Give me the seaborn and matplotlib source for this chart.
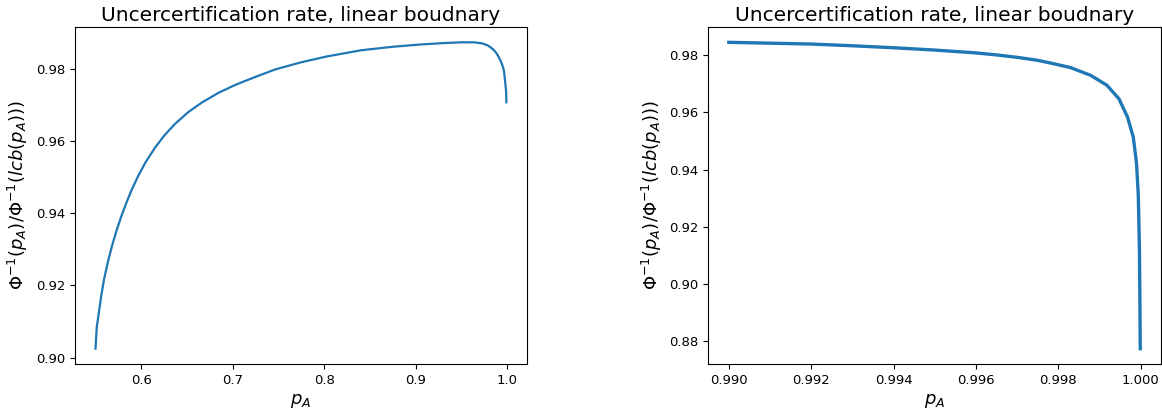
import numpy as np
import matplotlib
matplotlib.use("Agg")
import matplotlib.pyplot as plt
import seaborn as sns

# values
p_left = [0.5500, 0.5514, 0.5565, 0.5594, 0.5638, 0.5681, 0.5730, 0.5784,
          0.5839, 0.5894, 0.5966, 0.6047, 0.6149, 0.6251, 0.6368, 0.6514,
          0.6660, 0.6842, 0.7025, 0.7244, 0.7463, 0.7750, 0.8029, 0.8400,
          0.8758, 0.9050, 0.9306, 0.9488, 0.9634, 0.9726, 0.9781, 0.9817,
          0.9853, 0.9883, 0.9908, 0.9934, 0.9952, 0.9963, 0.9974, 0.9985,
          0.9989]
ratio_left = [0.9025, 0.9085, 0.9175, 0.9218, 0.9268, 0.9310, 0.9352, 0.9393,
              0.9430, 0.9464, 0.9503, 0.9541, 0.9581, 0.9615, 0.9647, 0.9680,
              0.9706, 0.9733, 0.9755, 0.9777, 0.9798, 0.9818, 0.9834, 0.9851,
              0.9861, 0.9867, 0.9871, 0.9873, 0.9873, 0.9870, 0.9865, 0.9859,
              0.9851, 0.9842, 0.9831, 0.9817, 0.9804, 0.9793, 0.9767, 0.9739,
              0.9707]

p_right = [0.99000, 0.99100, 0.99200, 0.99300, 0.99400, 0.99500, 0.99600,
           0.99650, 0.99703, 0.99750, 0.99780, 0.99829, 0.99878, 0.99918,
           0.99947, 0.99968, 0.99982, 0.99990, 0.99994, 0.99995, 0.99997,
           0.99998, 0.99999]
ratio_right = [0.9845, 0.9842, 0.9839, 0.9833, 0.9826, 0.9818, 0.9808,
               0.9801, 0.9792, 0.9782, 0.9773, 0.9757, 0.9730, 0.9695,
               0.9648, 0.9584, 0.9514, 0.9421, 0.9316, 0.9260, 0.9120,
               0.8960, 0.8774]

title = 'Uncercertification rate, linear boudnary'
xlab = r'$p_A$'
ylab = r'$\Phi^{-1}(p_A)/\Phi^{-1}(lcb(p_A)))$'

fig = plt.figure(figsize=(11.62, 4.13), dpi=100)
ax1 = fig.add_axes([0.0645, 0.1186, 0.389, 0.816])
ax2 = fig.add_axes([0.6095, 0.1186, 0.3895, 0.816])

sns.lineplot(x=p_left, y=ratio_left, ax=ax1, color='#1f77b4', linewidth=1.6, sort=False)
sns.lineplot(x=p_right, y=ratio_right, ax=ax2, color='#1f77b4', linewidth=2.4, sort=False)

for ax in (ax1, ax2):
  ax.set_title(title, fontsize=14.5, pad=4)
  ax.set_xlabel(xlab, fontsize=13)
  ax.set_ylabel(ylab, fontsize=13)
  ax.tick_params(labelsize=9.5)

ax1.set_xticks([0.6, 0.7, 0.8, 0.9, 1.0])
ax1.set_yticks([0.90, 0.92, 0.94, 0.96, 0.98])
ax2.set_xticks([0.990, 0.992, 0.994, 0.996, 0.998, 1.000])
ax2.set_yticks([0.88, 0.90, 0.92, 0.94, 0.96, 0.98])

fig.savefig('out.png', dpi=100)
